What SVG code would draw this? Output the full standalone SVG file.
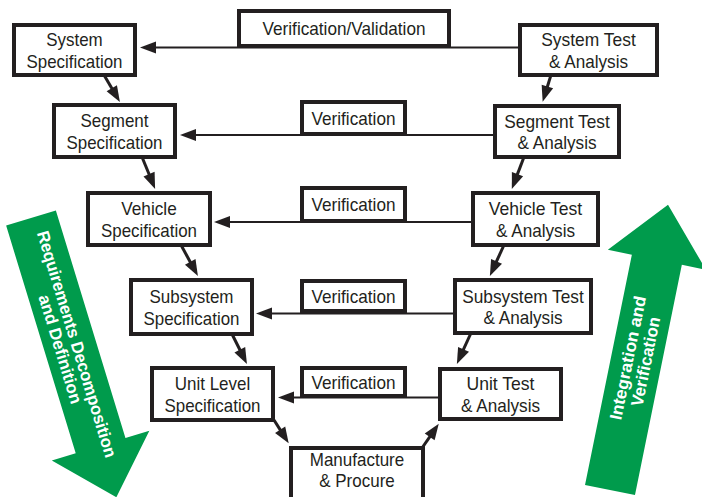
<svg xmlns="http://www.w3.org/2000/svg" width="702" height="497" viewBox="0 0 702 497">
  <style>
    .box { fill: #ffffff; stroke: #231f20; stroke-width: 4; }
    .lbl { font-family: "Liberation Sans", Arial, sans-serif; font-size: 19px; fill: #231f20; text-anchor: middle; }
    .link { stroke: #231f20; stroke-width: 1.8; fill: none; marker-end: url(#head); }
    .flow { stroke: #231f20; stroke-width: 3; fill: none; marker-end: url(#head); }
    .band { fill: #009b4c; }
    .band-lbl { font-family: "Liberation Sans Narrow", "Liberation Sans", Arial, sans-serif; font-size: 17px; font-weight: bold; fill: #ffffff; text-anchor: middle; }
  </style>
  <defs>
    <marker id="head" markerUnits="userSpaceOnUse" markerWidth="16" markerHeight="12" refX="2" refY="6" orient="auto" overflow="visible">
      <path d="M0,0 L16,6 L0,12 z" fill="#231f20"/>
    </marker>
  </defs>

  <rect width="702" height="497" fill="#ffffff"/>

  <!-- large direction arrows -->
  <g id="decomposition-arrow" transform="translate(31,218) rotate(-17)">
    <polygon class="band" points="-26,0 26,0 26,238 51,238 0,292 -51,238 -26,238"/>
    <g transform="rotate(90)">
      <text class="band-lbl" x="134" y="-1" textLength="236" lengthAdjust="spacingAndGlyphs">Requirements Decomposition</text>
      <text class="band-lbl" x="134" y="16" textLength="113" lengthAdjust="spacingAndGlyphs">and Definition</text>
    </g>
  </g>
  <g id="integration-arrow" transform="translate(610,490) rotate(11.5)">
    <polygon class="band" points="-25.5,0 25.5,0 25.5,-235 50,-235 0,-291 -50,-235 -25.5,-235"/>
    <g transform="rotate(-90)">
      <text class="band-lbl" x="133" y="-3" textLength="126" lengthAdjust="spacingAndGlyphs">Integration and</text>
      <text class="band-lbl" x="133" y="15" textLength="91" lengthAdjust="spacingAndGlyphs">Verification</text>
    </g>
  </g>

  <!-- connectors -->
  <g id="connectors">
    <line class="link" x1="520" y1="47.5" x2="154" y2="47.5"/>
    <line class="link" x1="495" y1="135" x2="194" y2="135"/>
    <line class="link" x1="473" y1="222" x2="228" y2="222"/>
    <line class="link" x1="455" y1="313.5" x2="270" y2="313.5"/>
    <line class="link" x1="440" y1="397.5" x2="292" y2="397.5"/>

    <line class="flow" x1="104" y1="75" x2="112.8" y2="90"/>
    <line class="flow" x1="142" y1="157" x2="149.8" y2="176"/>
    <line class="flow" x1="181" y1="245" x2="191.2" y2="263.7"/>
    <line class="flow" x1="232" y1="334" x2="240.7" y2="351.5"/>
    <line class="flow" x1="274" y1="420" x2="281.2" y2="431.4"/>
    <line class="flow" x1="422" y1="448" x2="430.8" y2="435.3"/>
    <line class="flow" x1="471" y1="333" x2="462.7" y2="351.2"/>
    <line class="flow" x1="504" y1="245" x2="495.7" y2="263.2"/>
    <line class="flow" x1="524" y1="157" x2="516.8" y2="175.9"/>
    <line class="flow" x1="551" y1="75" x2="546.8" y2="88.5"/>
  </g>

  <!-- verification labels on the links -->
  <g id="verification-validation">
    <rect class="box" x="239" y="11" width="210" height="35"/>
    <text class="lbl" x="344" y="35" textLength="163" lengthAdjust="spacingAndGlyphs">Verification/Validation</text>
  </g>
  <g id="verification-segment">
    <rect class="box" x="302" y="102" width="103" height="32"/>
    <text class="lbl" x="353.5" y="125" textLength="84" lengthAdjust="spacingAndGlyphs">Verification</text>
  </g>
  <g id="verification-vehicle">
    <rect class="box" x="302" y="188" width="103" height="33"/>
    <text class="lbl" x="353.5" y="211" textLength="84" lengthAdjust="spacingAndGlyphs">Verification</text>
  </g>
  <g id="verification-subsystem">
    <rect class="box" x="302" y="281" width="103" height="30"/>
    <text class="lbl" x="353.5" y="303" textLength="84" lengthAdjust="spacingAndGlyphs">Verification</text>
  </g>
  <g id="verification-unit">
    <rect class="box" x="302" y="368" width="103" height="28"/>
    <text class="lbl" x="353.5" y="389" textLength="84" lengthAdjust="spacingAndGlyphs">Verification</text>
  </g>

  <!-- specification side -->
  <g id="system-spec">
    <rect class="box" x="14" y="25" width="121" height="50"/>
    <text class="lbl" x="74.5" y="46" textLength="56.5" lengthAdjust="spacingAndGlyphs">System</text>
    <text class="lbl" x="74.5" y="67.5" textLength="96" lengthAdjust="spacingAndGlyphs">Specification</text>
  </g>
  <g id="segment-spec">
    <rect class="box" x="54" y="105" width="121" height="52"/>
    <text class="lbl" x="114.5" y="127" textLength="68" lengthAdjust="spacingAndGlyphs">Segment</text>
    <text class="lbl" x="114.5" y="148.5" textLength="96" lengthAdjust="spacingAndGlyphs">Specification</text>
  </g>
  <g id="vehicle-spec">
    <rect class="box" x="88" y="193" width="122" height="52"/>
    <text class="lbl" x="149" y="215" textLength="55.5" lengthAdjust="spacingAndGlyphs">Vehicle</text>
    <text class="lbl" x="149" y="236.5" textLength="96" lengthAdjust="spacingAndGlyphs">Specification</text>
  </g>
  <g id="subsystem-spec">
    <rect class="box" x="131" y="280" width="121" height="54"/>
    <text class="lbl" x="191.5" y="303" textLength="84" lengthAdjust="spacingAndGlyphs">Subsystem</text>
    <text class="lbl" x="191.5" y="324.5" textLength="96" lengthAdjust="spacingAndGlyphs">Specification</text>
  </g>
  <g id="unit-spec">
    <rect class="box" x="152" y="368" width="121" height="52"/>
    <text class="lbl" x="212.5" y="390" textLength="75.5" lengthAdjust="spacingAndGlyphs">Unit Level</text>
    <text class="lbl" x="212.5" y="411.5" textLength="96" lengthAdjust="spacingAndGlyphs">Specification</text>
  </g>

  <!-- bottom of the V -->
  <g id="manufacture">
    <rect class="box" x="291" y="448" width="132" height="56"/>
    <text class="lbl" x="357" y="466" textLength="94.5" lengthAdjust="spacingAndGlyphs">Manufacture</text>
    <text class="lbl" x="357" y="486.5" textLength="75.5" lengthAdjust="spacingAndGlyphs">&amp; Procure</text>
  </g>

  <!-- test side -->
  <g id="unit-test">
    <rect class="box" x="440" y="369" width="121" height="50"/>
    <text class="lbl" x="500.5" y="390" textLength="68" lengthAdjust="spacingAndGlyphs">Unit Test</text>
    <text class="lbl" x="500.5" y="411.5" textLength="79" lengthAdjust="spacingAndGlyphs">&amp; Analysis</text>
  </g>
  <g id="subsystem-test">
    <rect class="box" x="455" y="280" width="136" height="53"/>
    <text class="lbl" x="523" y="302.5" textLength="121.5" lengthAdjust="spacingAndGlyphs">Subsystem Test</text>
    <text class="lbl" x="523" y="324" textLength="79" lengthAdjust="spacingAndGlyphs">&amp; Analysis</text>
  </g>
  <g id="vehicle-test">
    <rect class="box" x="473" y="193" width="125" height="52"/>
    <text class="lbl" x="535.5" y="215" textLength="93.5" lengthAdjust="spacingAndGlyphs">Vehicle Test</text>
    <text class="lbl" x="535.5" y="236.5" textLength="79" lengthAdjust="spacingAndGlyphs">&amp; Analysis</text>
  </g>
  <g id="segment-test">
    <rect class="box" x="495" y="106" width="124" height="51"/>
    <text class="lbl" x="557" y="127.5" textLength="105.5" lengthAdjust="spacingAndGlyphs">Segment Test</text>
    <text class="lbl" x="557" y="149" textLength="79" lengthAdjust="spacingAndGlyphs">&amp; Analysis</text>
  </g>
  <g id="system-test">
    <rect class="box" x="520" y="25" width="137" height="50"/>
    <text class="lbl" x="588.5" y="46" textLength="94.5" lengthAdjust="spacingAndGlyphs">System Test</text>
    <text class="lbl" x="588.5" y="67.5" textLength="79" lengthAdjust="spacingAndGlyphs">&amp; Analysis</text>
  </g>
</svg>
